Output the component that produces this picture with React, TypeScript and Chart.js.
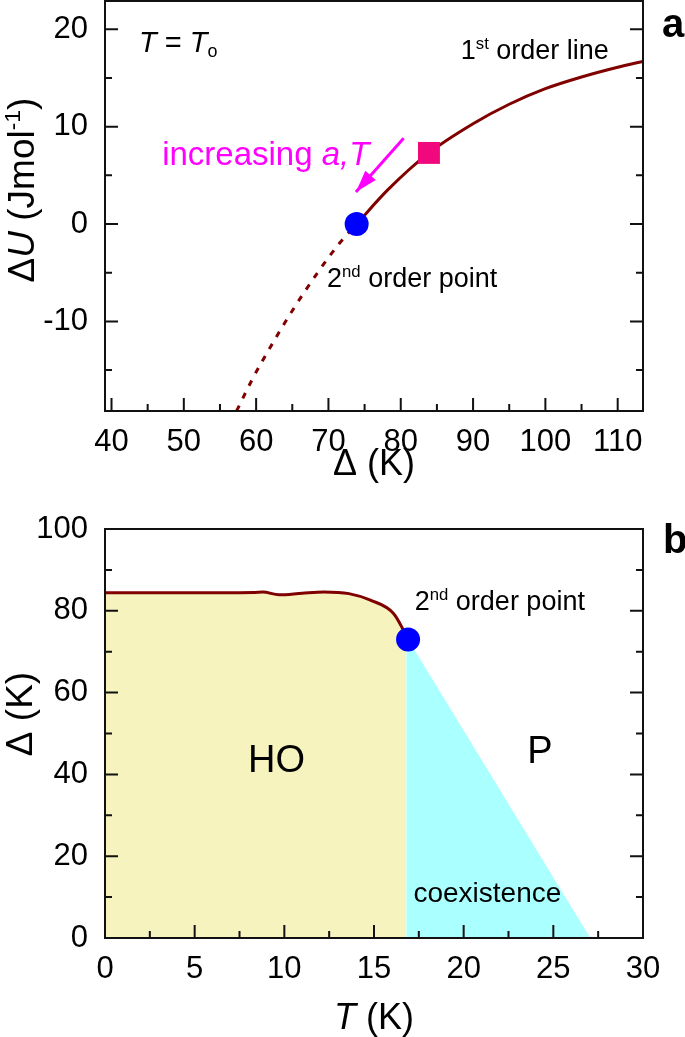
import React, { useEffect, useRef } from "react";
import { Chart, registerables } from "chart.js";
Chart.register(...registerables);

const FONT = "'Liberation Sans', Arial, Helvetica, sans-serif";

// ---------------- panel a : ΔU vs Δ ----------------
const A_X_RANGE = [39.1, 113.5];
const A_Y_RANGE = [-19.2, 22.9];
const A_X_TICKS = [40, 45, 50, 55, 60, 65, 70, 75, 80, 85, 90, 95, 100, 105, 110];
const A_X_LABELED = [40, 50, 60, 70, 80, 90, 100, 110];
const A_Y_TICKS = [-15, -10, -5, 0, 5, 10, 15, 20];
const A_Y_LABELED = [-10, 0, 10, 20];

const FIRST_ORDER_X = [73.9, 78.2, 83.9, 90, 95, 100, 105, 110, 113.5];
const FIRST_ORDER_Y = [0, 3.5, 7.3, 10.3, 12.3, 13.9, 15.1, 16.1, 16.7];
const METASTABLE_X = [57.3, 59.5, 62, 65, 68.5, 71.5, 73.9];
const METASTABLE_Y = [-19.2, -15.9, -12.6, -8.9, -5.0, -2.0, 0];
const SQUARE_X = [83.9];
const SQUARE_Y = [7.3];
const A_POINT_X = [73.9];
const A_POINT_Y = [0];
const ARROW_X = [80.4, 73.8];
const ARROW_Y = [8.8, 3.3];

// ---------------- panel b : Δ vs T ----------------
const B_X_RANGE = [0, 30];
const B_Y_RANGE = [0, 100];
const B_X_TICKS = [0, 2.5, 5, 7.5, 10, 12.5, 15, 17.5, 20, 22.5, 25, 27.5, 30];
const B_X_LABELED = [0, 5, 10, 15, 20, 25, 30];
const B_Y_TICKS = [0, 10, 20, 30, 40, 50, 60, 70, 80, 90, 100];
const B_Y_LABELED = [0, 20, 40, 60, 80, 100];

const HO_X = [0, 4, 8.3, 8.8, 9.7, 11, 12.2, 13.6, 14.8, 16.1, 16.8];
const HO_Y = [84.4, 84.4, 84.5, 84.6, 83.9, 84.3, 84.6, 84.2, 82.6, 79.3, 74];
const COEX_X = [16.8, 27.06];
const COEX_Y = [73.7, 0];
const B_POINT_X = [16.9];
const B_POINT_Y = [73];

const pts = (xs: number[], ys: number[]) => xs.map((x, i) => ({ x, y: ys[i] }));

type Seg = { t: string; i?: boolean; b?: boolean; sup?: boolean; sub?: boolean };
type Note = { segs: Seg[]; x: number; y: number; size: number; color: string; align?: "left" | "center" };

const TOP_NOTES: Note[] = [
  { segs: [{ t: "T", i: true }, { t: " = " }, { t: "T", i: true }, { t: "o", sub: true }], x: 43.8, y: 17.7, size: 29, color: "#000" },
  { segs: [{ t: "1" }, { t: "st", sup: true }, { t: " order line" }], x: 88.3, y: 16.9, size: 27, color: "#000" },
  { segs: [{ t: "increasing " }, { t: "a,T", i: true }], x: 47.0, y: 6.1, size: 33, color: "#ff00ff" },
  { segs: [{ t: "2" }, { t: "nd", sup: true }, { t: " order point" }], x: 69.8, y: -6.5, size: 27, color: "#000" },
];
const BOTTOM_NOTES: Note[] = [
  { segs: [{ t: "2" }, { t: "nd", sup: true }, { t: " order point" }], x: 17.27, y: 80.2, size: 27, color: "#000" },
  { segs: [{ t: "HO" }], x: 9.56, y: 40.6, size: 38, color: "#000", align: "center" },
  { segs: [{ t: "P" }], x: 24.25, y: 42.8, size: 38, color: "#000", align: "center" },
  { segs: [{ t: "coexistence" }], x: 17.2, y: 8.8, size: 28, color: "#000" },
];

function fontFor(s: Seg, size: number) {
  const sz = s.sup || s.sub ? size * 0.62 : size;
  return `${s.i ? "italic " : ""}${s.b ? "bold " : ""}${sz}px ${FONT}`;
}
function drawRich(ctx: CanvasRenderingContext2D, segs: Seg[], x: number, y: number, size: number, color: string, align: string) {
  let w = 0;
  segs.forEach((s) => {
    ctx.font = fontFor(s, size);
    w += ctx.measureText(s.t).width;
  });
  let cx = align === "center" ? x - w / 2 : x;
  ctx.fillStyle = color;
  ctx.textAlign = "left";
  ctx.textBaseline = "alphabetic";
  segs.forEach((s) => {
    ctx.font = fontFor(s, size);
    const dy = s.sup ? -size * 0.38 : s.sub ? size * 0.2 : 0;
    ctx.fillText(s.t, cx, y + dy);
    cx += ctx.measureText(s.t).width;
  });
}

function decorPlugin(opts: {
  xMajor: number[]; yMajor: number[]; notes: Note[];
  xTitle: Seg[]; xTitleDy: number; yTitle: Seg[]; yTitleX: number; yTitleY: number;
  panel: string; panelDx: number; panelDy: number; arrowDataset?: number;
}) {
  return {
    id: "decor",
    afterDatasetsDraw(chart: any) {
      const { ctx, chartArea: a, scales } = chart;
      const xs = scales.x, ys = scales.y;
      ctx.save();
      if (opts.arrowDataset !== undefined) {
        const meta = chart.getDatasetMeta(opts.arrowDataset);
        const p0 = meta.data[0], p1 = meta.data[1];
        const ang = Math.atan2(p1.y - p0.y, p1.x - p0.x);
        const L = 22, W = 7;
        ctx.fillStyle = "#ff00ff";
        ctx.beginPath();
        ctx.moveTo(p1.x, p1.y);
        ctx.lineTo(p1.x - L * Math.cos(ang) + W * Math.sin(ang), p1.y - L * Math.sin(ang) - W * Math.cos(ang));
        ctx.lineTo(p1.x - L * Math.cos(ang) - W * Math.sin(ang), p1.y - L * Math.sin(ang) + W * Math.cos(ang));
        ctx.closePath();
        ctx.fill();
      }
      ctx.strokeStyle = "#111";
      ctx.lineWidth = 2;
      ctx.lineCap = "butt";
      ctx.beginPath();
      xs.ticks.forEach((t: any) => {
        const px = xs.getPixelForValue(t.value);
        const len = opts.xMajor.includes(t.value) ? 13 : 7;
        ctx.moveTo(px, a.bottom);
        ctx.lineTo(px, a.bottom - len);
      });
      ys.ticks.forEach((t: any) => {
        const py = ys.getPixelForValue(t.value);
        const len = opts.yMajor.includes(t.value) ? 13 : 7;
        ctx.moveTo(a.left, py);
        ctx.lineTo(a.left + len, py);
        ctx.moveTo(a.right, py);
        ctx.lineTo(a.right - len, py);
      });
      ctx.stroke();
      ctx.strokeRect(a.left, a.top, a.right - a.left, a.bottom - a.top);
      opts.notes.forEach((n) => {
        drawRich(ctx, n.segs, xs.getPixelForValue(n.x), ys.getPixelForValue(n.y), n.size, n.color, n.align || "left");
      });
      drawRich(ctx, opts.xTitle, (a.left + a.right) / 2, a.bottom + opts.xTitleDy, 36, "#000", "center");
      ctx.save();
      ctx.translate(opts.yTitleX, opts.yTitleY);
      ctx.rotate(-Math.PI / 2);
      drawRich(ctx, opts.yTitle, 0, 0, 37, "#000", "center");
      ctx.restore();
      drawRich(ctx, [{ t: opts.panel, b: true }], a.right + opts.panelDx, a.top + opts.panelDy, 40, "#000", "left");
      ctx.restore();
    },
  };
}

function scaleOpts(range: number[], ticks: number[], labeled: number[], fixed: { w?: number; h?: number }, pad: number) {
  return {
    type: "linear" as const,
    min: range[0],
    max: range[1],
    grid: { display: false, drawTicks: false },
    border: { display: false },
    afterBuildTicks: (scale: any) => {
      scale.ticks = ticks.map((v) => ({ value: v }));
    },
    afterFit: (scale: any) => {
      if (fixed.w !== undefined) scale.width = fixed.w;
      if (fixed.h !== undefined) scale.height = fixed.h;
      scale.paddingTop = 0;
      scale.paddingBottom = 0;
      scale.paddingLeft = 0;
      scale.paddingRight = 0;
    },
    ticks: {
      autoSkip: false,
      maxRotation: 0,
      padding: pad,
      color: "#000",
      font: { family: FONT, size: 31 },
      callback: (v: any) => (labeled.includes(Number(v)) ? String(v) : ""),
    },
  };
}

const TOP_H = 500;
const BOT_H = 537;

function topConfig(): any {
  return {
    type: "scatter",
    data: {
      datasets: [
        { data: pts(A_POINT_X, A_POINT_Y), pointRadius: 12, pointBackgroundColor: "#0000ff", pointBorderWidth: 0, showLine: false, order: 0 },
        { data: pts(SQUARE_X, SQUARE_Y), pointStyle: "rect", pointRadius: 15.5, pointBackgroundColor: "#f0087c", pointBorderWidth: 0, showLine: false, order: 1 },
        { data: pts(ARROW_X, ARROW_Y), showLine: true, borderColor: "#ff00ff", borderWidth: 3, pointRadius: 0, order: 2 },
        { data: pts(FIRST_ORDER_X, FIRST_ORDER_Y), showLine: true, borderColor: "#800000", borderWidth: 3, pointRadius: 0, cubicInterpolationMode: "monotone", order: 3 },
        { data: pts(METASTABLE_X, METASTABLE_Y), showLine: true, borderColor: "#800000", borderWidth: 3, borderDash: [6, 8], pointRadius: 0, cubicInterpolationMode: "monotone", order: 4 },
      ],
    },
    options: {
      responsive: false,
      animation: false,
      devicePixelRatio: 1,
      layout: { autoPadding: false, padding: { top: 1, right: 42, bottom: 0, left: 0 } },
      plugins: { legend: { display: false }, tooltip: { enabled: false } },
      scales: {
        x: scaleOpts(A_X_RANGE, A_X_TICKS, A_X_LABELED, { h: TOP_H - 411 }, 13),
        y: scaleOpts(A_Y_RANGE, A_Y_TICKS, A_Y_LABELED, { w: 105 }, 17),
      },
    },
    plugins: [
      decorPlugin({
        xMajor: A_X_LABELED, yMajor: A_Y_LABELED, notes: TOP_NOTES,
        xTitle: [{ t: "Δ (K)" }], xTitleDy: 64,
        yTitle: [{ t: "Δ" }, { t: "U", i: true }, { t: " (Jmol" }, { t: "-1", sup: true }, { t: ")" }],
        yTitleX: 34, yTitleY: 190,
        panel: "a", panelDx: 19, panelDy: 36, arrowDataset: 2,
      }),
    ],
  };
}

function bottomConfig(): any {
  return {
    type: "scatter",
    data: {
      datasets: [
        { data: pts(B_POINT_X, B_POINT_Y), pointRadius: 12, pointBackgroundColor: "#0000ff", pointBorderWidth: 0, showLine: false, order: 0 },
        { data: pts(HO_X, HO_Y), showLine: true, borderColor: "#800000", borderWidth: 3, pointRadius: 0, cubicInterpolationMode: "monotone", fill: "origin", backgroundColor: "#f6f3be", order: 1 },
        { data: pts(COEX_X, COEX_Y), showLine: true, borderWidth: 0, borderColor: "rgba(0,0,0,0)", pointRadius: 0, fill: "origin", backgroundColor: "#aaffff", order: 2 },
      ],
    },
    options: {
      responsive: false,
      animation: false,
      devicePixelRatio: 1,
      layout: { autoPadding: false, padding: { top: 29, right: 42, bottom: 0, left: 0 } },
      plugins: { legend: { display: false }, tooltip: { enabled: false } },
      scales: {
        x: scaleOpts(B_X_RANGE, B_X_TICKS, B_X_LABELED, { h: BOT_H - 438 }, 13),
        y: scaleOpts(B_Y_RANGE, B_Y_TICKS, B_Y_LABELED, { w: 105 }, 17),
      },
    },
    plugins: [
      decorPlugin({
        xMajor: B_X_LABELED, yMajor: B_Y_LABELED, notes: BOTTOM_NOTES,
        xTitle: [{ t: "T", i: true }, { t: " (K)" }], xTitleDy: 91,
        yTitle: [{ t: "Δ (K)" }],
        yTitleX: 32, yTitleY: 214,
        panel: "b", panelDx: 20, panelDy: 24,
      }),
    ],
  };
}

export default function App() {
  const topRef = useRef<HTMLCanvasElement>(null);
  const botRef = useRef<HTMLCanvasElement>(null);
  useEffect(() => {
    const c1 = new Chart(topRef.current as HTMLCanvasElement, topConfig());
    const c2 = new Chart(botRef.current as HTMLCanvasElement, bottomConfig());
    return () => {
      c1.destroy();
      c2.destroy();
    };
  }, []);
  return (
    <div style={{ position: "absolute", left: 0, top: 0, width: 685, height: 1037, background: "#fff" }}>
      <canvas ref={topRef} width={685} height={TOP_H} style={{ position: "absolute", left: 0, top: 0 }} />
      <canvas ref={botRef} width={685} height={BOT_H} style={{ position: "absolute", left: 0, top: TOP_H }} />
    </div>
  );
}
